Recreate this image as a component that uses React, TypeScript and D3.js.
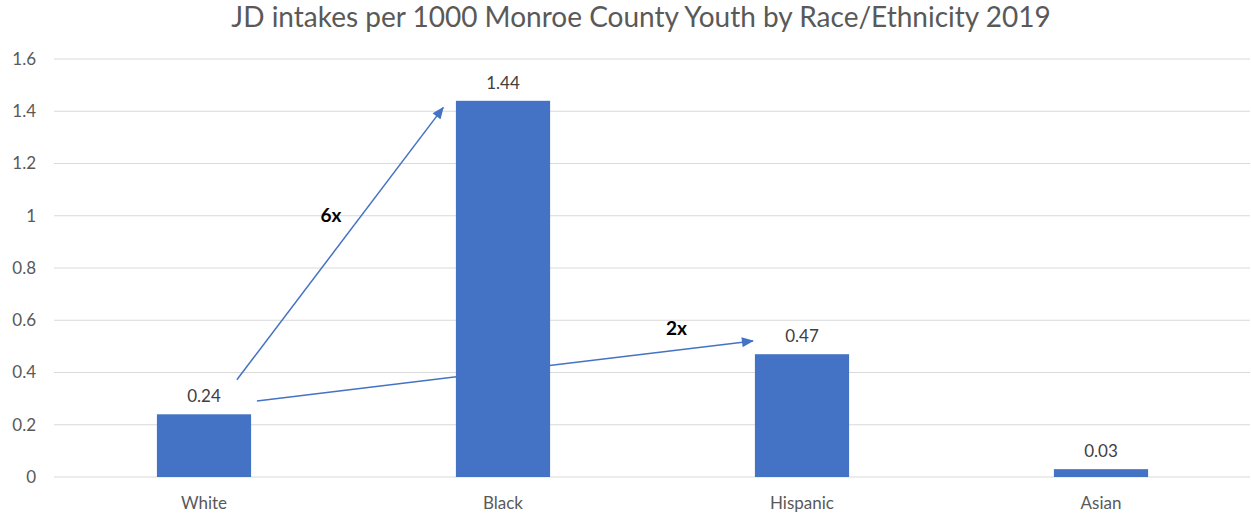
import React from "react";
import * as d3 from "d3";

const categories = ["White", "Black", "Hispanic", "Asian"];
const values = [0.24, 1.44, 0.47, 0.03];
const yTicks = [0, 0.2, 0.4, 0.6, 0.8, 1, 1.2, 1.4, 1.6];
const title = "JD intakes per 1000 Monroe County Youth by Race/Ethnicity 2019";

// annotation arrows: from/to expressed as (category, offset in steps, value)
const arrowLabels = ["6x", "2x"];
const arrowFrom = [
  { cat: "White", off: 0.11, v: 0.372 },
  { cat: "White", off: 0.177, v: 0.291 },
];
const arrowTo = [
  { cat: "Black", off: -0.2, v: 1.414 },
  { cat: "Hispanic", off: -0.164, v: 0.521 },
];
const arrowLabelPos = [
  { cat: "White", off: 0.425, v: 1.0 },
  { cat: "Black", off: 0.58, v: 0.57 },
];

const W = 1251;
const H = 517;
const FONT = "Lato, 'Open Sans', sans-serif";

export default function App() {
  const x = d3.scaleBand<string>().domain(categories).range([54.5, 1250.5]).padding(0);
  const y = d3.scaleLinear().domain([0, 1.6]).range([477, 59]);
  const step = x.step();
  const barW = step * 0.315;
  const cx = (c: string) => (x(c) as number) + step / 2;
  const px = (p: { cat: string; off: number }) => cx(p.cat) + p.off * step;

  return (
    <svg width={W} height={H} style={{ display: "block", position: "absolute", left: 0, top: 0 }}>
      <defs>
        <marker id="ah2" viewBox="0 0 12 10" refX="11" refY="5" markerWidth="13" markerHeight="10" orient="auto" markerUnits="userSpaceOnUse">
          <path d="M0,0 L12,5 L0,10 z" fill="#4472C4" />
        </marker>
      </defs>
      <rect width={W} height={H} fill="#fff" />
      <text x={641} y={27} textAnchor="middle" fontFamily={FONT} fontSize={28} fill="#595959">
        {title}
      </text>
      {yTicks.map((t) => (
        <g key={t}>
          <line x1={54} x2={1250} y1={y(t)} y2={y(t)} stroke="#d9d9d9" strokeWidth={1} />
          <text x={36} y={y(t)} dy="0.35em" textAnchor="end" fontFamily={FONT} fontSize={17} fill="#595959">
            {String(t)}
          </text>
        </g>
      ))}
      {arrowLabels.map((l, i) => (
        <line
          key={l}
          x1={px(arrowFrom[i])}
          y1={y(arrowFrom[i].v)}
          x2={px(arrowTo[i])}
          y2={y(arrowTo[i].v)}
          stroke="#4472C4"
          strokeWidth={1.5}
          markerEnd="url(#ah2)"
        />
      ))}
      {categories.map((c, i) => (
        <g key={c}>
          <rect x={cx(c) - barW / 2} y={y(values[i])} width={barW} height={y(0) - y(values[i])} fill="#4472C4" />
          <text x={cx(c)} y={y(values[i]) - 18} dy="0.35em" textAnchor="middle" fontFamily={FONT} fontSize={17} fill="#404040">
            {values[i].toFixed(2)}
          </text>
          <text x={cx(c)} y={503} dy="0.35em" textAnchor="middle" fontFamily={FONT} fontSize={17} fill="#595959">
            {c}
          </text>
        </g>
      ))}
      {arrowLabels.map((l, i) => (
        <text key={l} x={px(arrowLabelPos[i])} y={y(arrowLabelPos[i].v)} dy="0.35em" textAnchor="middle" fontFamily={FONT} fontSize={19} fontWeight="bold" fill="#000">
          {l}
        </text>
      ))}
    </svg>
  );
}
